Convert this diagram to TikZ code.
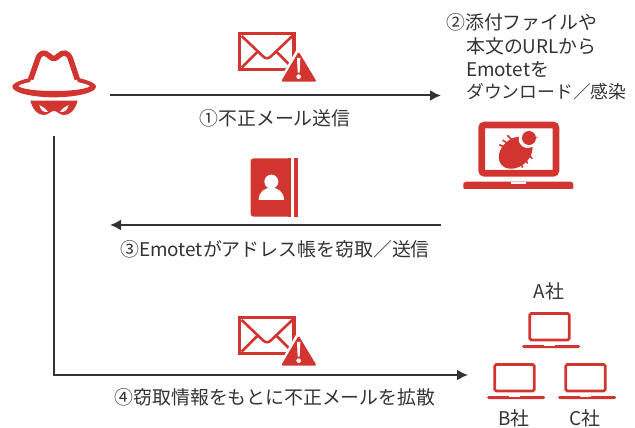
\documentclass[tikz,border=0pt]{standalone}
\usepackage{fontspec}
\setmainfont{Noto Sans CJK JP}
\definecolor{brandred}{HTML}{D23430}
\definecolor{inkgray}{HTML}{333333}
\usetikzlibrary{arrows.meta}
\tikzset{
  x=1pt,y=-1pt,
  flow/.style={draw=inkgray,line width=2pt,-{Latex[length=11pt,width=11pt]}},
  label/.style={font=\fontsize{18.9}{22}\selectfont,text=inkgray,inner sep=0pt},
  zoomed/.style={x=0.3333pt,y=-0.3333pt},
  laptopsmall/.pic={
    \draw[brandred,line width=2.7pt,rounded corners=1.5pt] (0,0) rectangle (39.5,26.5);
    \fill[brandred,rounded corners=1.5pt] (-7.5,31.5) rectangle (50.5,34.5);
    \fill[white] (14,31.5) rectangle (25,32.5);
  },
  mailwarn/.pic={
    \begin{scope}[zoomed]
      \draw[brandred,line width=3.6pt] (59,41) rectangle (222,149);
      \draw[brandred,line width=2.6pt,line join=round] (65,48) -- (128,108) .. controls (137,117) and (145,117) .. (154,108) -- (217,48);
      \draw[brandred,line width=2.6pt] (65,143) -- (112,96);
      \draw[brandred,line width=2.6pt] (217,143) -- (170,96);
      \fill[white] (236,78) -- (168,198) -- (305,198) -- cycle;
      \fill[brandred,rounded corners=1.5pt] (236,95) -- (183,185) -- (290,185) -- cycle;
      \fill[white] (231,114) -- (241,114) -- (239,158) -- (233,158) -- cycle;
      \fill[white] (236,170) circle[radius=7];
    \end{scope}
  }
}
\begin{document}
\begin{tikzpicture}
\useasboundingbox (0,0) rectangle (635,428);
% attacker
\begin{scope}[shift={(0,20)},zoomed]
  \draw[brandred,line width=5.5pt,line join=round]
    (92,178) -- (113,118) .. controls (120,95) and (135,95) .. (148,108)
    .. controls (158,118) and (165,118) .. (175,108)
    .. controls (188,95) and (205,95) .. (212,118) -- (232,178);
  \fill[brandred] (37,200) .. controls (37,188) and (70,178) .. (96,172) -- (90,186)
    .. controls (70,190) and (55,195) .. (55,199)
    .. controls (70,208) and (110,213) .. (162,213)
    .. controls (214,213) and (255,208) .. (270,199)
    .. controls (270,195) and (250,190) .. (234,186) -- (228,172)
    .. controls (255,178) and (288,188) .. (288,200)
    .. controls (288,220) and (220,232) .. (162,232)
    .. controls (104,232) and (37,220) .. (37,200) -- cycle;
  \fill[brandred] (91,242) -- (233,242) .. controls (225,270) and (210,287) .. (190,285)
    .. controls (178,284) and (172,273) .. (162,273)
    .. controls (152,273) and (146,284) .. (134,285)
    .. controls (114,287) and (99,270) .. (91,242) -- cycle;
  \fill[white] (118,255) .. controls (128,260) and (138,266) .. (144,276) .. controls (132,278) and (122,272) .. (118,255) -- cycle;
  \fill[white] (206,255) .. controls (196,260) and (186,266) .. (180,276) .. controls (192,278) and (202,272) .. (206,255) -- cycle;
\end{scope}
% connector anchors
\coordinate (a1) at (110,95.5);
\coordinate (v1) at (441,95.5);
\coordinate (v3) at (441,225);
\coordinate (a3) at (110,225);
\coordinate (a4) at (54,136);
\coordinate (corner) at (54,375);
\coordinate (co) at (468,375);
\draw[flow] (a1) -- (v1);
\draw[flow] (v3) -- (a3);
\draw[flow] (a4) -- (corner) -- (co);
% mail icons
\pic at (220,20) {mailwarn};
\pic at (220,304) {mailwarn};
% address book
\begin{scope}[shift={(235,150)},zoomed]
  \fill[brandred,rounded corners=3pt] (47,25) rectangle (167,200);
  \fill[brandred] (167,25) rectangle (160,200);
  \fill[brandred] (177,25) rectangle (190,200);
  \fill[white] (109,95) circle[radius=21];
  \fill[white] (71,150) .. controls (71,125) and (90,113) .. (109,113) .. controls (128,113) and (147,125) .. (147,150) -- cycle;
\end{scope}
% large laptop
\begin{scope}[shift={(450,110)},zoomed]
  \draw[brandred,line width=6.7pt,rounded corners=3pt] (95,45) rectangle (318,190);
  \fill[brandred,rounded corners=3pt] (40,215) -- (370,215) -- (370,226) .. controls (370,233) and (365,237) .. (358,237) -- (52,237) .. controls (45,237) and (40,233) .. (40,226) -- cycle;
  \fill[white] (183,215) rectangle (228,222);
  % bug
  \draw[brandred,line width=1.6pt] (148,104) -- (168,114) (158,90) -- (176,103) (172,76) -- (188,92)
    (218,173) -- (208,150) (233,160) -- (220,140) (247,146) -- (230,128)
    (240,62) -- (236,75) (262,82) -- (248,86);
  \fill[brandred,rotate around={40:(197,128)}] (197,128) ellipse[x radius=56,y radius=42];
  \fill[white] (233,87) circle[radius=27];
  \fill[brandred] (237,84) circle[radius=21];
\end{scope}
% company laptops
\begin{scope}[shift={(480,275)}]
  \pic at (49.7,38.5) {laptopsmall};
  \pic at (14.7,89.5) {laptopsmall};
  \pic at (85.7,89.5) {laptopsmall};
\end{scope}
% labels
\node[label] (t1) at (275,118) {①不正メール送信};
\node[label,anchor=west] (t2a) at (446,22) {②添付ファイルや};
\node[label,anchor=west] (t2b) at (466,46) {本文のURLから};
\node[label,anchor=west] (t2c) at (466,69) {Emotetを};
\node[label,anchor=west,font=\fontsize{17.8}{22}\selectfont] (t2d) at (466,92) {ダウンロード／感染};
\node[label] (t3) at (275,249) {③Emotetがアドレス帳を窃取／送信};
\node[label] (t4) at (275,397) {④窃取情報をもとに不正メールを拡散};
\node[label] (ta) at (549,291) {A社};
\node[label] (tb) at (514,418) {B社};
\node[label] (tc) at (585,418) {C社};
\end{tikzpicture}
\end{document}
